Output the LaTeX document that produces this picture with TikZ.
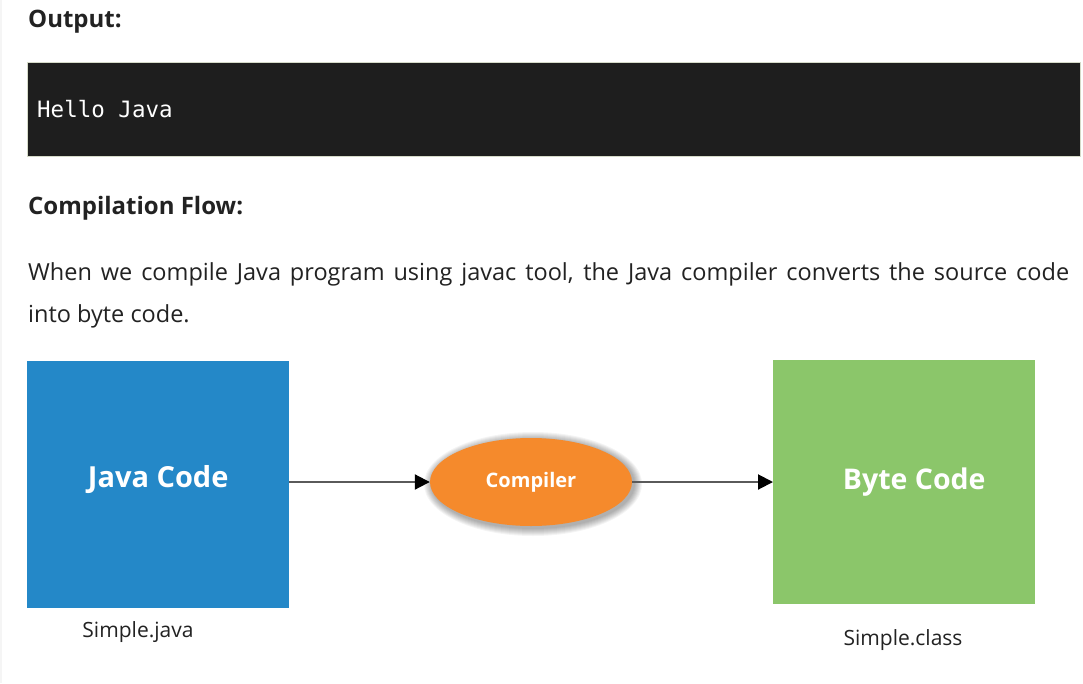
\documentclass[tikz,border=0pt]{standalone}
\usepackage{fontspec}
\setmainfont{Open Sans}
\setmonofont{DejaVu Sans Mono}
\usepackage{xcolor}
\usetikzlibrary{arrows.meta,positioning,shapes.geometric}

\definecolor{textdark}{HTML}{222222}
\definecolor{codebg}{HTML}{1E1E1E}
\definecolor{codeedge}{HTML}{D6DBC9}
\definecolor{javablue}{HTML}{2488C8}
\definecolor{compor}{HTML}{F58A2C}
\definecolor{bytegreen}{HTML}{8BC66A}
\definecolor{flowgray}{HTML}{5A5A5A}

\begin{document}
\begin{tikzpicture}[
    >={Triangle[length=15pt,width=15pt,color=black]},
    x=1pt, y=-1pt,
    heading/.style={anchor=base west,inner sep=0pt,text=textdark,
                    font=\fontsize{24}{28}\selectfont\bfseries},
    bodytext/.style={anchor=base west,inner sep=0pt,text=textdark,
                     font=\fontsize{23.5}{28}\selectfont},
    codebox/.style={draw=codeedge,fill=codebg,anchor=north west,inner sep=0pt,
                    minimum width=1053,minimum height=94},
    srcbox/.style={fill=javablue,anchor=north west,text=white,
                   minimum width=262,minimum height=247,
                   font=\fontsize{29}{33}\selectfont\bfseries},
    outbox/.style={srcbox,fill=bytegreen,minimum height=244,
                   font=\fontsize{28.5}{33}\selectfont\bfseries},
    compnode/.style={ellipse,fill=compor,text=white,
                     minimum width=202,minimum height=88,
                     font=\fontsize{20}{24}\selectfont\bfseries},
    filelabel/.style={text=textdark,inner sep=0pt,
                      font=\fontsize{21}{25}\selectfont},
    flow/.style={->,flowgray,line width=2pt},
  ]

  % --- page frame ---
  \useasboundingbox[fill=white] (0,0) rectangle (1083,683);
  \fill[gray!8] (0,0) rectangle (2,683);

  % --- output section ---
  \node[heading] (outhead) at (28,27) {Output:};
  \node[codebox] (console) at (27,62) {};
  \node[anchor=base west,inner sep=0pt,text=white,
        font=\fontsize{22.5}{26}\selectfont\ttfamily] (hello) at (37,117) {Hello Java};

  % --- compilation flow text ---
  \node[heading] (flowhead) at (28,214) {Compilation Flow:};
  \node[bodytext] (line1) at (28,280)
    {\makebox[1041pt][s]{When we compile Java program using javac tool, the Java compiler converts the source code}};
  \node[bodytext] (line2) at (28,322) {into byte code.};

  % --- diagram ---
  \node[srcbox,text depth=16pt] (java) at (27,361) {Java Code};
  % soft glow under the compiler
  \foreach \g in {1,...,8}
    \fill[black,opacity=0.045] (533,484) ellipse ({101+\g} and {44+\g});
  \node[compnode] (comp) at (531,482) {Compiler};
  \node[outbox] (byte) at (773,360) {\hspace*{20pt}Byte Code};

  \draw[flow] (java.east |- comp.west) -- (comp.west);
  \draw[flow] (comp.east) -- (byte.west |- comp.east);

  % --- file names ---
  \node[filelabel] (srcfile) at (138,632) {Simple.java};
  \node[filelabel] (clsfile) at (903,640) {Simple.class};

\end{tikzpicture}
\end{document}
